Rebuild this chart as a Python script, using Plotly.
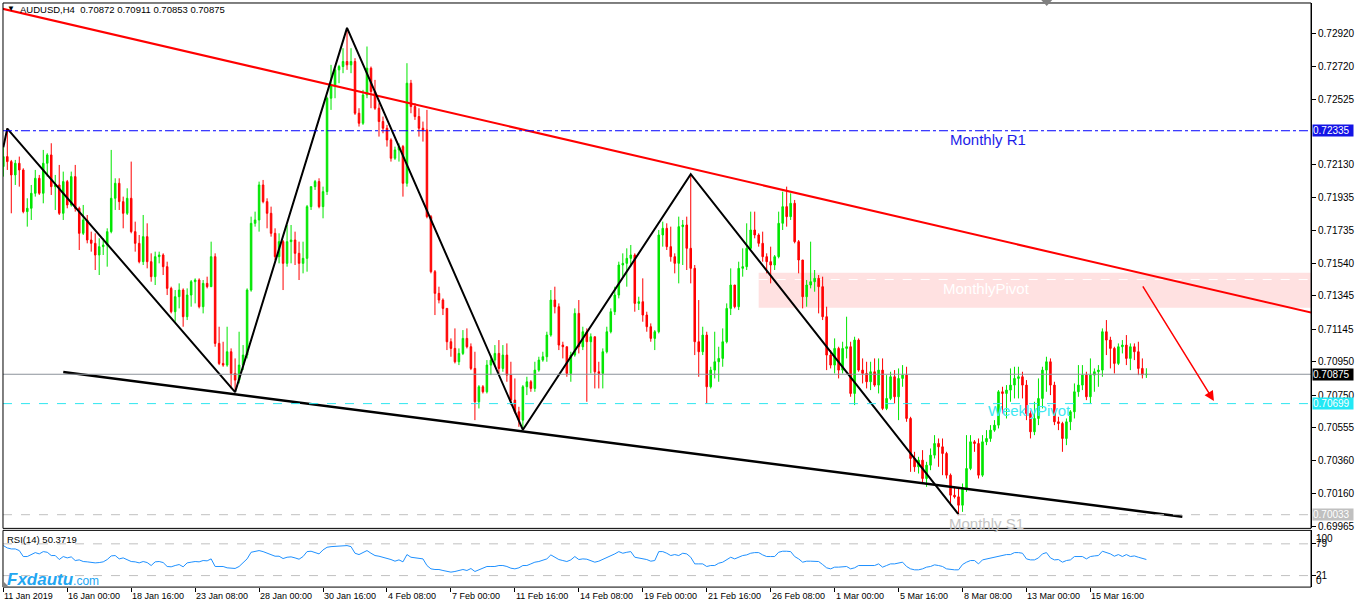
import plotly.graph_objects as go

# AUDUSD H4, first bar = 11 Jan 2019 08:00
opens = [
    0.7212, 0.7218, 0.7215, 0.7207, 0.7214, 0.7210, 0.7185, 0.7187, 0.7196, 0.7205,
    0.7196, 0.7214, 0.7219, 0.7200, 0.7201, 0.7184, 0.7203, 0.7189, 0.7206, 0.7187,
    0.7172, 0.7180, 0.7168, 0.7166, 0.7159, 0.7164, 0.7165, 0.7173, 0.7193, 0.7202,
    0.7191, 0.7184, 0.7193, 0.7173, 0.7166, 0.7155, 0.7170, 0.7155, 0.7146, 0.7158,
    0.7159, 0.7152, 0.7139, 0.7125, 0.7134, 0.7138, 0.7122, 0.7135, 0.7143, 0.7144,
    0.7128, 0.7142, 0.7140, 0.7158, 0.7106, 0.7094, 0.7093, 0.7101, 0.7088, 0.7084,
    0.7093, 0.7099, 0.7138, 0.7178, 0.7180, 0.7201, 0.7191, 0.7184, 0.7172, 0.7158,
    0.7167, 0.7154, 0.7167, 0.7168, 0.7160, 0.7154, 0.7157, 0.7188, 0.7200, 0.7203,
    0.7188, 0.7197, 0.7253, 0.7261, 0.7270, 0.7272, 0.7275, 0.7273, 0.7275, 0.7244,
    0.7238, 0.7255, 0.7271, 0.7257, 0.7247, 0.7239, 0.7235, 0.7228, 0.7217, 0.7222,
    0.7224, 0.7202, 0.7262, 0.7248, 0.7242, 0.7235, 0.7234, 0.7182, 0.7149, 0.7136,
    0.7132, 0.7127, 0.7107, 0.7103, 0.7095, 0.7100, 0.7109, 0.7104, 0.7091, 0.7071,
    0.7080, 0.7077, 0.7093, 0.7096, 0.7100, 0.7091, 0.7099, 0.7087, 0.7072, 0.7065,
    0.7060, 0.7080, 0.7083, 0.7079, 0.7090, 0.7096, 0.7098, 0.7111, 0.7132, 0.7128,
    0.7105, 0.7104, 0.7088, 0.7099, 0.7124, 0.7104, 0.7113, 0.7107, 0.7110, 0.7089,
    0.7088, 0.7101, 0.7113, 0.7125, 0.7135, 0.7153, 0.7154, 0.7157, 0.7159, 0.7130,
    0.7131, 0.7123, 0.7116, 0.7109, 0.7113, 0.7171, 0.7175, 0.7164, 0.7158, 0.7154,
    0.7176, 0.7177, 0.7163, 0.7151, 0.7107, 0.7101, 0.7111, 0.7080, 0.7090, 0.7095,
    0.7097, 0.7107, 0.7127, 0.7141, 0.7128, 0.7151, 0.7152, 0.7163, 0.7174, 0.7171,
    0.7166, 0.7158, 0.7155, 0.7153, 0.7158, 0.7178, 0.7188, 0.7182, 0.7190, 0.7167,
    0.7156, 0.7134, 0.7141, 0.7143, 0.7145, 0.7140, 0.7122, 0.7099, 0.7093, 0.7103,
    0.7090, 0.7103, 0.7104, 0.7076, 0.7108, 0.7090, 0.7088, 0.7083, 0.7089, 0.7081,
    0.7090, 0.7067, 0.7073, 0.7086, 0.7074, 0.7085, 0.7087, 0.7061, 0.7037, 0.7032,
    0.7036, 0.7025, 0.7033, 0.7039, 0.7046, 0.7044, 0.7040, 0.7027, 0.7015, 0.7014,
    0.7009, 0.7019, 0.7031, 0.7047, 0.7046, 0.7027, 0.7047, 0.7049, 0.7054, 0.7057,
    0.7077, 0.7076, 0.7078, 0.7081, 0.7085, 0.7086, 0.7081, 0.7064, 0.7053, 0.7061,
    0.7073, 0.7090, 0.7095, 0.7081, 0.7059, 0.7058, 0.7049, 0.7059, 0.7065, 0.7077,
    0.7081, 0.7087, 0.7074, 0.7087, 0.7089, 0.7090, 0.7113, 0.7108, 0.7103, 0.7094,
    0.7104, 0.7105, 0.7097, 0.7104, 0.7101, 0.7091, 0.70872,
]
highs = [
    0.7224, 0.7235, 0.7216, 0.7216, 0.7218, 0.7211, 0.7193, 0.7201, 0.7210, 0.7207,
    0.7222, 0.7220, 0.7226, 0.7207, 0.7213, 0.7209, 0.7204, 0.7209, 0.7213, 0.7188,
    0.7189, 0.7183, 0.7173, 0.7172, 0.7169, 0.7169, 0.7175, 0.7222, 0.7205, 0.7205,
    0.7194, 0.7199, 0.7215, 0.7179, 0.7171, 0.7183, 0.7178, 0.7160, 0.7161, 0.7161,
    0.7160, 0.7155, 0.7140, 0.7138, 0.7142, 0.7139, 0.7139, 0.7144, 0.7145, 0.7145,
    0.7144, 0.7146, 0.7167, 0.7160, 0.7116, 0.7107, 0.7116, 0.7103, 0.7097, 0.7113,
    0.7105, 0.7139, 0.7182, 0.7185, 0.7203, 0.7204, 0.7193, 0.7188, 0.7175, 0.7172,
    0.7168, 0.7177, 0.7177, 0.7173, 0.7167, 0.7167, 0.7189, 0.7200, 0.7204, 0.7205,
    0.7200, 0.7254, 0.7273, 0.7271, 0.7273, 0.7283, 0.7295, 0.7283, 0.7277, 0.7247,
    0.7258, 0.7284, 0.7272, 0.7264, 0.7250, 0.7242, 0.7237, 0.7229, 0.7224, 0.7226,
    0.7225, 0.7274, 0.7264, 0.7250, 0.7247, 0.7239, 0.7246, 0.7183, 0.7150, 0.7140,
    0.7133, 0.7127, 0.7109, 0.7115, 0.7103, 0.7114, 0.7115, 0.7106, 0.7101, 0.7081,
    0.7081, 0.7096, 0.7099, 0.7105, 0.7108, 0.7105, 0.7106, 0.7095, 0.7085, 0.7068,
    0.7081, 0.7086, 0.7084, 0.7095, 0.7098, 0.7101, 0.7113, 0.7138, 0.7140, 0.7130,
    0.7107, 0.7104, 0.7101, 0.7127, 0.7132, 0.7116, 0.7115, 0.7112, 0.7110, 0.7095,
    0.7103, 0.7116, 0.7127, 0.7140, 0.7155, 0.7160, 0.7163, 0.7165, 0.7160, 0.7134,
    0.7145, 0.7125, 0.7118, 0.7114, 0.7174, 0.7179, 0.7178, 0.7176, 0.7160, 0.7182,
    0.7180, 0.7182, 0.7207, 0.7153, 0.7132, 0.7116, 0.7113, 0.7092, 0.7113, 0.7104,
    0.7115, 0.7130, 0.7151, 0.7141, 0.7155, 0.7163, 0.7178, 0.7185, 0.7185, 0.7172,
    0.7173, 0.7160, 0.7164, 0.7159, 0.7185, 0.7197, 0.7200, 0.7196, 0.7192, 0.7168,
    0.7156, 0.7144, 0.7167, 0.7150, 0.7147, 0.7146, 0.7128, 0.7102, 0.7109, 0.7104,
    0.7107, 0.7122, 0.7107, 0.7110, 0.7109, 0.7097, 0.7095, 0.7095, 0.7097, 0.7097,
    0.7097, 0.7087, 0.7089, 0.7090, 0.7091, 0.7093, 0.7092, 0.7062, 0.7041, 0.7038,
    0.7042, 0.7035, 0.7043, 0.7051, 0.7049, 0.7049, 0.7041, 0.7028, 0.7020, 0.7019,
    0.7022, 0.7051, 0.7051, 0.7048, 0.7049, 0.7051, 0.7054, 0.7057, 0.7060, 0.7078,
    0.7080, 0.7081, 0.7091, 0.7092, 0.7092, 0.7089, 0.7084, 0.7066, 0.7071, 0.7085,
    0.7092, 0.7098, 0.7097, 0.7083, 0.7062, 0.7059, 0.7061, 0.7066, 0.7082, 0.7093,
    0.7093, 0.7089, 0.7097, 0.7091, 0.7093, 0.7115, 0.7120, 0.7110, 0.7104, 0.7106,
    0.7108, 0.7111, 0.7106, 0.7106, 0.7107, 0.7097, 0.70911,
]
lows = [
    0.7206, 0.7210, 0.7184, 0.7201, 0.7200, 0.7184, 0.7176, 0.7180, 0.7194, 0.7195,
    0.7190, 0.7206, 0.7195, 0.7186, 0.7183, 0.7180, 0.7187, 0.7188, 0.7185, 0.7162,
    0.7171, 0.7166, 0.7161, 0.7150, 0.7147, 0.7159, 0.7152, 0.7172, 0.7186, 0.7186,
    0.7175, 0.7183, 0.7172, 0.7161, 0.7154, 0.7153, 0.7151, 0.7143, 0.7141, 0.7154,
    0.7147, 0.7135, 0.7124, 0.7119, 0.7127, 0.7116, 0.7120, 0.7128, 0.7130, 0.7127,
    0.7124, 0.7139, 0.7140, 0.7104, 0.7093, 0.7092, 0.7092, 0.7079, 0.7077, 0.7082,
    0.7090, 0.7097, 0.7137, 0.7176, 0.7173, 0.7190, 0.7175, 0.7170, 0.7156, 0.7154,
    0.7138, 0.7152, 0.7154, 0.7153, 0.7144, 0.7148, 0.7149, 0.7186, 0.7198, 0.7187,
    0.7181, 0.7195, 0.7246, 0.7253, 0.7262, 0.7268, 0.7270, 0.7268, 0.7243, 0.7236,
    0.7237, 0.7253, 0.7247, 0.7246, 0.7230, 0.7232, 0.7224, 0.7215, 0.7216, 0.7215,
    0.7194, 0.7200, 0.7244, 0.7240, 0.7230, 0.7227, 0.7181, 0.7148, 0.7123, 0.7130,
    0.7123, 0.7102, 0.7098, 0.7094, 0.7093, 0.7099, 0.7103, 0.7090, 0.7060, 0.7067,
    0.7076, 0.7076, 0.7087, 0.7092, 0.7088, 0.7089, 0.7083, 0.7069, 0.7064, 0.7056,
    0.7054, 0.7075, 0.7077, 0.7077, 0.7089, 0.7095, 0.7095, 0.7110, 0.7124, 0.7102,
    0.7097, 0.7086, 0.7083, 0.7098, 0.7100, 0.7102, 0.7071, 0.7088, 0.7079, 0.7079,
    0.7079, 0.7100, 0.7112, 0.7123, 0.7133, 0.7146, 0.7140, 0.7152, 0.7125, 0.7126,
    0.7119, 0.7113, 0.7107, 0.7102, 0.7112, 0.7164, 0.7162, 0.7155, 0.7148, 0.7142,
    0.7153, 0.7150, 0.7142, 0.7099, 0.7086, 0.7099, 0.7070, 0.7079, 0.7085, 0.7083,
    0.7092, 0.7106, 0.7123, 0.7127, 0.7126, 0.7146, 0.7150, 0.7162, 0.7169, 0.7164,
    0.7155, 0.7148, 0.7142, 0.7150, 0.7157, 0.7174, 0.7176, 0.7180, 0.7166, 0.7148,
    0.7127, 0.7128, 0.7139, 0.7137, 0.7124, 0.7120, 0.7090, 0.7091, 0.7088, 0.7085,
    0.7088, 0.7097, 0.7074, 0.7069, 0.7089, 0.7082, 0.7079, 0.7078, 0.7080, 0.7076,
    0.7066, 0.7066, 0.7072, 0.7070, 0.7060, 0.7080, 0.7059, 0.7029, 0.7029, 0.7028,
    0.7022, 0.7020, 0.7030, 0.7037, 0.7032, 0.7027, 0.7025, 0.7009, 0.7013, 0.7003,
    0.7005, 0.7017, 0.7030, 0.7041, 0.7025, 0.7026, 0.7045, 0.7047, 0.7053, 0.7055,
    0.7064, 0.7061, 0.7071, 0.7073, 0.7073, 0.7073, 0.7060, 0.7049, 0.7051, 0.7057,
    0.7067, 0.7077, 0.7075, 0.7057, 0.7054, 0.7041, 0.7045, 0.7054, 0.7061, 0.7074,
    0.7078, 0.7072, 0.7070, 0.7077, 0.7080, 0.7086, 0.7099, 0.7091, 0.7088, 0.7093,
    0.7100, 0.7093, 0.7090, 0.7096, 0.7087, 0.7085, 0.70853,
]
closes = [
    0.7218, 0.7215, 0.7207, 0.7214, 0.7210, 0.7185, 0.7187, 0.7196, 0.7205, 0.7196,
    0.7214, 0.7219, 0.7200, 0.7201, 0.7184, 0.7203, 0.7189, 0.7206, 0.7187, 0.7172,
    0.7180, 0.7168, 0.7166, 0.7159, 0.7164, 0.7165, 0.7173, 0.7193, 0.7202, 0.7191,
    0.7184, 0.7193, 0.7173, 0.7166, 0.7155, 0.7170, 0.7155, 0.7146, 0.7158, 0.7159,
    0.7152, 0.7139, 0.7125, 0.7134, 0.7138, 0.7122, 0.7135, 0.7143, 0.7144, 0.7128,
    0.7142, 0.7140, 0.7158, 0.7106, 0.7094, 0.7093, 0.7101, 0.7088, 0.7084, 0.7093,
    0.7099, 0.7138, 0.7178, 0.7180, 0.7201, 0.7191, 0.7184, 0.7172, 0.7158, 0.7167,
    0.7154, 0.7167, 0.7168, 0.7160, 0.7154, 0.7157, 0.7188, 0.7200, 0.7203, 0.7188,
    0.7197, 0.7253, 0.7261, 0.7270, 0.7272, 0.7275, 0.7273, 0.7275, 0.7244, 0.7238,
    0.7255, 0.7271, 0.7257, 0.7247, 0.7239, 0.7235, 0.7228, 0.7217, 0.7222, 0.7224,
    0.7202, 0.7262, 0.7248, 0.7242, 0.7235, 0.7234, 0.7182, 0.7149, 0.7136, 0.7132,
    0.7127, 0.7107, 0.7103, 0.7095, 0.7100, 0.7109, 0.7104, 0.7091, 0.7071, 0.7080,
    0.7077, 0.7093, 0.7096, 0.7100, 0.7091, 0.7099, 0.7087, 0.7072, 0.7065, 0.7060,
    0.7080, 0.7083, 0.7079, 0.7090, 0.7096, 0.7098, 0.7111, 0.7132, 0.7128, 0.7105,
    0.7104, 0.7088, 0.7099, 0.7124, 0.7104, 0.7113, 0.7107, 0.7110, 0.7089, 0.7088,
    0.7101, 0.7113, 0.7125, 0.7135, 0.7153, 0.7154, 0.7157, 0.7159, 0.7130, 0.7131,
    0.7123, 0.7116, 0.7109, 0.7113, 0.7171, 0.7175, 0.7164, 0.7158, 0.7154, 0.7176,
    0.7177, 0.7163, 0.7151, 0.7107, 0.7101, 0.7111, 0.7080, 0.7090, 0.7095, 0.7097,
    0.7107, 0.7127, 0.7141, 0.7128, 0.7151, 0.7152, 0.7163, 0.7174, 0.7171, 0.7166,
    0.7158, 0.7155, 0.7153, 0.7158, 0.7178, 0.7188, 0.7182, 0.7190, 0.7167, 0.7156,
    0.7134, 0.7141, 0.7143, 0.7145, 0.7140, 0.7122, 0.7099, 0.7093, 0.7103, 0.7090,
    0.7103, 0.7104, 0.7076, 0.7108, 0.7090, 0.7088, 0.7083, 0.7089, 0.7081, 0.7090,
    0.7067, 0.7073, 0.7086, 0.7074, 0.7085, 0.7087, 0.7061, 0.7037, 0.7032, 0.7036,
    0.7025, 0.7033, 0.7039, 0.7046, 0.7044, 0.7040, 0.7027, 0.7015, 0.7014, 0.7009,
    0.7019, 0.7031, 0.7047, 0.7046, 0.7027, 0.7047, 0.7049, 0.7054, 0.7057, 0.7077,
    0.7076, 0.7078, 0.7081, 0.7085, 0.7086, 0.7081, 0.7064, 0.7053, 0.7061, 0.7073,
    0.7090, 0.7095, 0.7081, 0.7059, 0.7058, 0.7049, 0.7059, 0.7065, 0.7077, 0.7081,
    0.7087, 0.7074, 0.7087, 0.7089, 0.7090, 0.7113, 0.7108, 0.7103, 0.7094, 0.7104,
    0.7105, 0.7097, 0.7104, 0.7101, 0.7091, 0.70872, 0.70875,
]

rsi = [
    75.8, 71.5, 69.7, 69.7, 66.7, 55.8, 55.8, 59.4, 63.0, 60.6,
    64.8, 63.6, 57.6, 57.6, 50.3, 55.8, 53.3, 55.2, 48.5, 49.7,
    46.7, 46.1, 44.8, 44.2, 44.8, 46.1, 50.3, 56.9, 57.6, 51.5,
    53.3, 49.7, 46.7, 46.1, 44.2, 46.7, 44.8, 39.4, 46.1, 46.7,
    44.8, 37.6, 37.0, 39.4, 41.2, 37.0, 44.2, 45.5, 46.7, 46.1,
    48.5, 47.9, 51.5, 37.6, 37.0, 37.6, 35.2, 35.2, 34.0, 37.6,
    44.2, 51.5, 63.6, 65.5, 66.7, 64.8, 61.8, 59.4, 56.4, 56.4,
    52.1, 54.5, 55.2, 53.3, 50.9, 55.8, 64.8, 65.5, 63.6, 60.6,
    67.9, 72.7, 73.9, 74.5, 75.8, 76.4, 75.8, 73.9, 61.8, 59.4,
    63.6, 66.7, 61.8, 57.6, 56.4, 54.5, 52.7, 50.3, 47.3, 49.7,
    46.1, 59.4, 54.5, 53.3, 53.3, 51.5, 39.4, 33.3, 32.1, 32.1,
    30.3, 29.1,
    27.3, 28.5, 30.3, 32.1, 30.3, 33.9, 28.5, 31.5, 33.3, 37.6,
    37.6, 37.6, 39.4, 39.4, 37.6, 34.5, 33.3, 35.2, 39.4, 39.4,
    42.4, 45.5, 46.7, 48.5, 51.5, 58.8, 54.5, 50.3, 48.5, 46.7,
    49.7, 55.8, 50.3, 51.5, 50.9, 48.5, 45.5, 47.3, 50.3, 54.5,
    57.6, 60.6, 64.8, 61.8, 63.6, 64.8, 54.5, 53.3, 52.7, 50.3,
    47.3, 48.5, 64.8, 64.8, 61.8, 57.6, 59.4, 57.6, 61.8, 60.6,
    54.5, 42.4, 42.4, 42.4, 37.6, 39.4, 39.4, 43.6, 45.5, 50.3,
    54.5, 51.5, 54.5, 57.6, 58.8, 61.8, 63.0, 63.0, 58.8, 55.8,
    55.8, 55.8, 63.6, 65.5, 65.5, 64.8, 55.8, 51.5, 45.5, 47.3,
    47.3, 47.3, 46.7, 41.2, 35.2, 33.3, 36.4, 36.4, 37.6, 37.6,
    33.3, 35.2, 39.4, 39.4, 38.8, 39.4, 39.4, 42.4, 36.4, 39.4,
    42.4, 42.4, 43.6,
    45.5, 37.6, 33.3, 31.5, 31.5, 33.3, 36.4, 37.6, 40.6, 39.4,
    37.6, 33.3, 32.1, 31.5, 31.5, 41.2, 45.5, 48.5, 48.5, 42.4,
    49.7, 51.5, 53.3, 54.5, 56.9, 57.6, 59.4, 59.4, 63.0, 63.0,
    61.8, 51.5, 49.7, 49.7, 53.3, 60.6, 63.0, 53.3, 49.7, 50.3,
    45.5, 48.5, 49.7, 55.8, 56.4, 55.8, 51.5, 55.8, 56.9, 57.6,
    65.5, 63.6, 60.6, 56.4, 59.4, 55.8, 59.4, 55.8, 56.9, 54.5,
    52.7, 50.37,
]

bars = list(range(len(closes)))

tick_bars = [0, 16, 32, 48, 64, 80, 96, 112, 128, 144, 160, 176, 192, 208, 224, 240, 256, 272]
tick_labels = ["11 Jan 2019", "16 Jan 00:00", "18 Jan 16:00", "23 Jan 08:00", "28 Jan 00:00",
               "30 Jan 16:00", "4 Feb 08:00", "7 Feb 00:00", "11 Feb 16:00", "14 Feb 08:00",
               "19 Feb 00:00", "21 Feb 16:00", "26 Feb 08:00", "1 Mar 00:00", "5 Mar 16:00",
               "8 Mar 08:00", "13 Mar 00:00", "15 Mar 16:00"]
price_ticks = [0.72920, 0.72720, 0.72525, 0.72130, 0.71935, 0.71735, 0.71540, 0.71345,
               0.71145, 0.70950, 0.70750, 0.70555, 0.70360, 0.70160, 0.69965]

# drawn objects
zigzag_bars = [0, 1, 58, 86, 130, 172, 239]
zigzag_prices = [0.72236, 0.72348, 0.70768, 0.72952, 0.70542, 0.72075, 0.70035]
resist_bars = [-1, 330]
resist_prices = [0.73071, 0.71229]
support_bars = [15, 295]
support_prices = [0.70888, 0.70021]

monthly_r1 = 0.72335
monthly_pivot = 0.71443
pivot_zone = (0.71274, 0.71484)
weekly_pivot = 0.70699
monthly_s1 = 0.70033
last_price = 0.70875
rsi_levels = [79, 21]

W, H = 1355, 607
FONT = "Liberation Sans"


def px(x):
    return x / W


def py(y):
    return 1 - y / H


X0, X1 = 3, 1312

fig = go.Figure()

fig.add_trace(go.Candlestick(
    x=bars, open=opens, high=highs, low=lows, close=closes,
    increasing=dict(line=dict(color="#00E600", width=1), fillcolor="#00E600"),
    decreasing=dict(line=dict(color="#FF0000", width=1), fillcolor="#FF0000"),
    whiskerwidth=0, hoverinfo="skip", showlegend=False,
    xaxis="x", yaxis="y",
))

fig.add_trace(go.Scatter(x=resist_bars, y=resist_prices, mode="lines",
                         line=dict(color="#FF0000", width=2), showlegend=False, hoverinfo="skip"))
fig.add_trace(go.Scatter(x=support_bars, y=support_prices, mode="lines",
                         line=dict(color="#000000", width=2.5), showlegend=False, hoverinfo="skip"))
fig.add_trace(go.Scatter(x=zigzag_bars, y=zigzag_prices, mode="lines",
                         line=dict(color="#000000", width=2), showlegend=False, hoverinfo="skip"))

fig.add_trace(go.Scatter(x=bars, y=rsi, mode="lines", line=dict(color="#1E90FF", width=1),
                         showlegend=False, hoverinfo="skip", xaxis="x", yaxis="y2"))

shapes = []
# monthly pivot zone
shapes.append(dict(type="rect", xref="x", yref="y", x0=189, x1=327.2,
                   y0=pivot_zone[0], y1=pivot_zone[1], fillcolor="#FFE1E1",
                   line=dict(width=0), layer="below"))
shapes.append(dict(type="line", xref="x", yref="y", x0=189, x1=327.2,
                   y0=monthly_pivot, y1=monthly_pivot,
                   line=dict(color="white", width=1, dash="dash"), layer="below"))


def hline(level, color, dash, yref="y"):
    return dict(type="line", xref="paper", yref=yref, x0=px(X0), x1=px(X1),
                y0=level, y1=level, line=dict(color=color, width=1, dash=dash))


shapes.append(hline(monthly_r1, "#0000FF", "dashdot"))
shapes.append(hline(last_price, "#8C929A", "solid"))
shapes.append(hline(weekly_pivot, "#2EE6F0", "dash"))
shapes.append(hline(monthly_s1, "#C0C0C0", "dash"))
for lv in rsi_levels:
    shapes.append(hline(lv, "#C0C0C0", "dash", yref="y2"))

# panel frames
shapes.append(dict(type="rect", xref="paper", yref="paper", x0=px(X0), x1=px(X1),
                   y0=py(531), y1=py(3), line=dict(color="black", width=1)))
shapes.append(dict(type="rect", xref="paper", yref="paper", x0=px(X0), x1=px(X1),
                   y0=py(590), y1=py(533), line=dict(color="black", width=1)))
# little markers
shapes.append(dict(type="path", xref="paper", yref="paper",
                   path=f"M {px(1042)} {py(0)} L {px(1053)} {py(0)} L {px(1047.5)} {py(6)} Z",
                   fillcolor="#808080", line=dict(width=0)))
shapes.append(dict(type="path", xref="paper", yref="paper",
                   path=f"M {px(3)} {py(584)} L {px(3)} {py(590)} L {px(9)} {py(590)} Z",
                   fillcolor="#808080", line=dict(width=0)))

annotations = []


def label(x, y, text, size, color, xanchor="center", **kw):
    return dict(xref="paper", yref="paper", x=px(x), y=py(y), text=text, showarrow=False,
                xanchor=xanchor, yanchor="middle", borderpad=0,
                font=dict(family=FONT, size=size, color=color), **kw)


annotations.append(label(6, 9, "▼", 8, "black", xanchor="left"))
annotations.append(label(19, 10, "AUDUSD,H4  0.70872 0.70911 0.70853 0.70875", 9.5, "black",
                         xanchor="left"))
annotations.append(label(6, 542, "RSI(14) 50.3719", 9.5, "black", xanchor="left"))
annotations.append(label(989, 140, "Monthly R1", 15, "#1C1CE8"))
annotations.append(label(987, 290, "MonthlyPivot", 15, "white"))
annotations.append(label(1030, 413, "WeeklyPivot", 15, "#3CE8F2"))
annotations.append(label(987, 526, "Monthly S1", 15, "#C4C4C4"))
annotations.append(label(6, 582, "<b><i>Fxdautu</i></b><span style='font-size:12px'>.com</span>",
                         17, "#22A6F2", xanchor="left"))

# arrow
annotations.append(dict(xref="x", yref="y", x=302.9, y=0.70715, ax=-72, ay=-116,
                        axref="pixel", ayref="pixel", text="", showarrow=True,
                        arrowhead=2, arrowsize=1.3, arrowwidth=1.5, arrowcolor="#FF0000"))

# level boxes on the price scale
for level, bg in [(monthly_r1, "#1414E6"), (last_price, "#000000"),
                  (weekly_pivot, "#22E8F5"), (monthly_s1, "#C0C0C0")]:
    annotations.append(dict(xref="paper", yref="y", x=px(1313), y=level, text=f"{level:.5f}",
                            showarrow=False, xanchor="left", yanchor="middle", align="left",
                            width=40, height=11, borderpad=0, bgcolor=bg,
                            font=dict(family=FONT, size=10, color="white")))

# RSI scale labels
for txt, val, anchor in [("100", 100, "top"), ("79", 79, "middle"),
                         ("21", 21, "middle"), ("0", 0, "bottom")]:
    annotations.append(dict(xref="paper", yref="y2", x=px(1316), y=val, text=txt,
                            showarrow=False, xanchor="left", yanchor=anchor, borderpad=0,
                            font=dict(family=FONT, size=10, color="black")))

# time labels
for b, lab in zip(tick_bars, tick_labels):
    annotations.append(dict(xref="x", yref="paper", x=b, y=py(599), text=lab,
                            showarrow=False, xanchor="left", yanchor="middle", borderpad=0,
                            font=dict(family=FONT, size=9, color="black")))

fig.update_layout(
    width=W, height=H,
    margin=dict(l=0, r=0, t=0, b=0),
    paper_bgcolor="white", plot_bgcolor="white",
    showlegend=False, boxgap=0.45,
    shapes=shapes, annotations=annotations,
    xaxis=dict(domain=[px(X0), px(X1)], range=[-0.075, 327.2], anchor="y2",
               showgrid=False, zeroline=False, rangeslider=dict(visible=False),
               tickvals=tick_bars, showticklabels=False, ticks="outside", ticklen=4,
               tickcolor="black", showline=False),
    yaxis=dict(domain=[py(531), py(3)], range=[0.69951, 0.73101], side="right",
               anchor="x", tickvals=price_ticks, ticktext=[f"{v:.5f}" for v in price_ticks],
               ticks="outside", ticklen=4, tickcolor="black", showgrid=False,
               zeroline=False, showline=True, linecolor="black", linewidth=1,
               tickfont=dict(family=FONT, size=10, color="black")),
    yaxis2=dict(domain=[py(590), py(533)], range=[0, 103.6], side="right", anchor="x",
                tickvals=[21, 79], showticklabels=False, ticks="outside", ticklen=4,
                tickcolor="black", showgrid=False, zeroline=False, showline=True,
                linecolor="black", linewidth=1),
)

# the page has a default 8px body margin; drop it so the figure fills the window
fig.write_html("out.html", config={"displayModeBar": False},
               post_script="document.body.style.margin='0';document.body.style.overflow='hidden';")
